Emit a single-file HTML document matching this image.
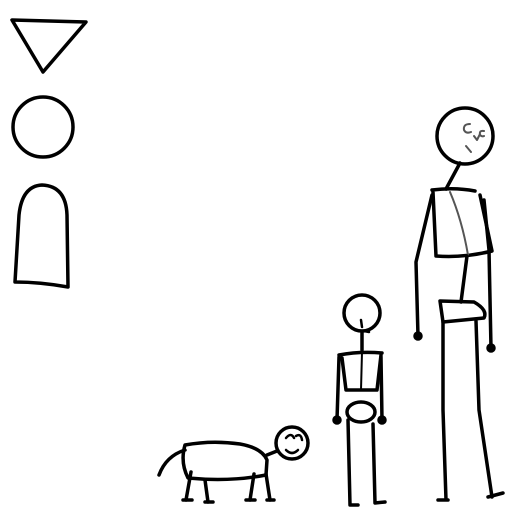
<!DOCTYPE html>
<html><head><meta charset="utf-8"><style>html,body{margin:0;padding:0;background:#fff}svg{display:block}</style></head>
<body>
<svg width="512" height="512" viewBox="0 0 512 512" fill="none" stroke="#000" stroke-width="3.5" stroke-linecap="round" stroke-linejoin="round">
<g><path d="M12 20 L86 22 L43 72 Z"/></g>
<g><circle cx="43" cy="127" r="30"/></g>
<g><path d="M15 282 L19 215 Q22 186 42 185 Q66 186 67 215 L68 287 Q40 282 15 282 Z"/></g>

<g>
<circle cx="465" cy="136" r="28"/>
<path d="M470 124 Q463 124 464 130 Q466 134 471 132 M474 136 L477 140 L480 134 M484 131 Q479 130 480 135 Q482 137 484 136 M466 146 L471 152" stroke="#555" stroke-width="2"/>
<path d="M460 163 L446 189"/>
<path d="M432 190 Q455 187 475 191 M433 192 L436 256 Q465 258 492 251 L480 195"/>
<path d="M450 192 Q462 220 468 255" stroke="#555" stroke-width="2"/>
<path d="M432 195 L416 262 L418 336"/><circle cx="418" cy="336" r="3" fill="#000"/>
<path d="M484 200 L489 250 L491 348"/><circle cx="491" cy="348" r="3" fill="#000"/>
<path d="M467 256 L461 302"/>
<path d="M440 301 L474 302 Q488 310 484 318 L443 322 Z" />
<path d="M443 322 L443 410 L446 500 M476 321 L479 410 L492 497 M438 500 L448 500 M488 497 L503 493"/>
</g>

<g>
<circle cx="362" cy="313" r="18"/>
<path d="M361 320 L362 327 M364 331 L369 332" stroke-width="2.5"/>
<path d="M362 333 L362 350"/>
<path d="M339 355 Q360 351 382 353 M342 358 L346 390 L377 390 L381 355"/>
<path d="M362 352 L361 390" stroke-width="2"/>
<path d="M339 357 L337 420 M381 357 L382 420"/>
<circle cx="337" cy="420" r="3" fill="#000"/><circle cx="382" cy="420" r="3" fill="#000"/>
<ellipse cx="361" cy="412" rx="14" ry="10"/>
<path d="M348 420 L350 505 M373 424 L375 503 M350 505 L358 505 M375 503 L385 502"/>
</g>

<g>
<path d="M185 445 Q212 440 240 444 Q262 448 267 460 L266 475 Q230 482 188 478 Q180 462 185 445 Z"/>
<path d="M185 450 Q166 456 159 475"/>
<circle cx="292" cy="443" r="16"/>
<path d="M267 455 L277 451"/>
<path d="M286 438 Q291 432 294 438 M296 436 Q301 433 302 440 M286 450 Q292 456 298 450" stroke-width="2.5"/>
<path d="M191 472 L186 500 M205 480 L208 502 M254 474 L250 500 M266 474 L270 500"/>
<path d="M183 500 L192 500 M205 502 L213 502 M246 500 L255 500 M267 500 L274 500"/>
</g>
</svg>
</body></html>
